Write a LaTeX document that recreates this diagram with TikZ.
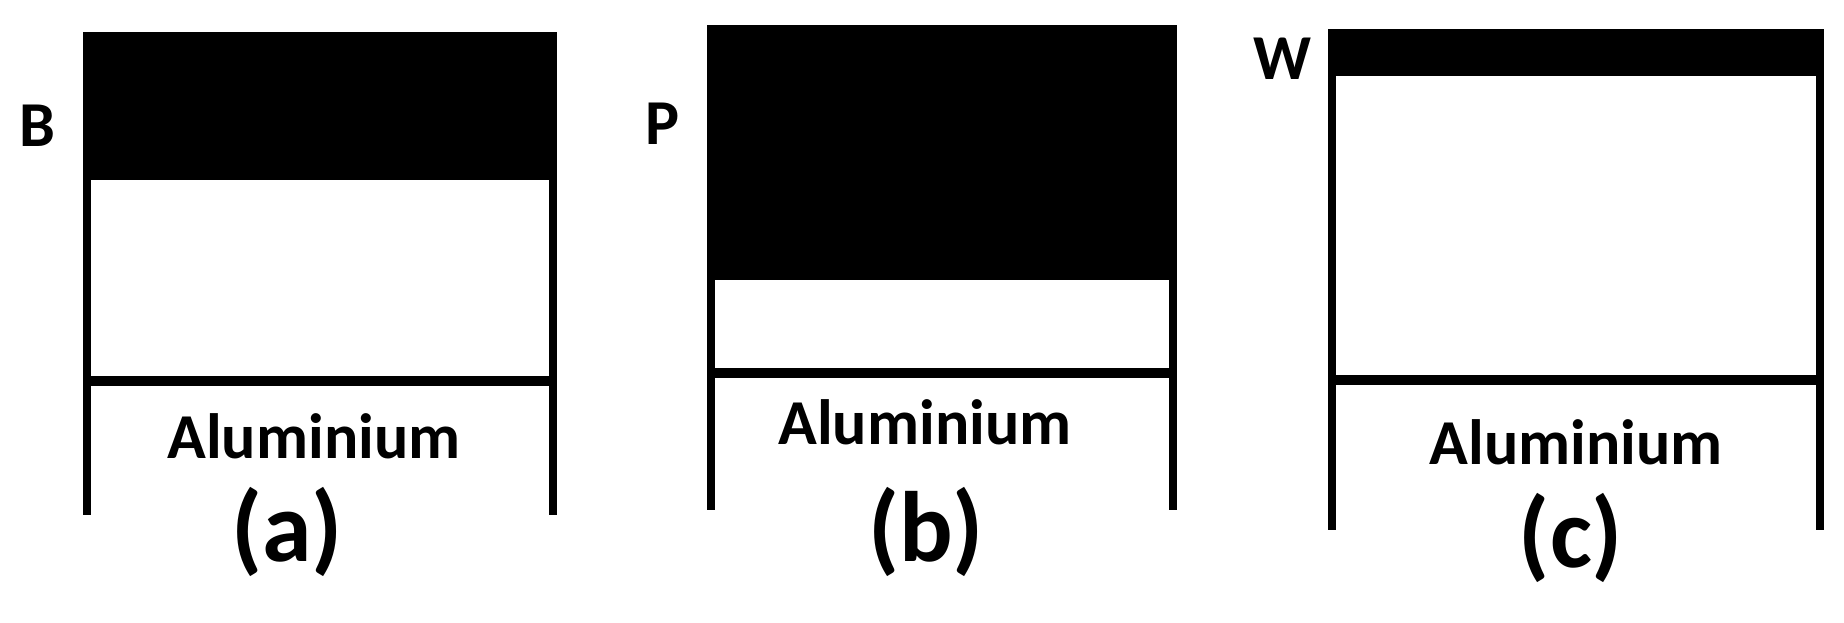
\documentclass[tikz,border=0pt]{standalone}
\usepackage{fontspec}
\setmainfont{Carlito}

\begin{document}
\begin{tikzpicture}[x=1pt,y=-1pt,
    wall/.style={line width=8pt},
    interface/.style={line width=10pt},
    film/.style={fill=black},
    tag/.style={font=\bfseries\fontsize{64}{70}\selectfont, inner sep=0pt},
    caption/.style={font=\bfseries\fontsize{100}{110}\selectfont, inner sep=0pt}]
    \useasboundingbox (0,0) rectangle (1844,622);
    % Stacks: name/left/right/top/film bottom/interface/wall end
    \foreach \n/\l/\r/\t/\f/\h/\e in {a/83/557/32/180/381/515, b/707/1177/25/280/373/510, c/1328/1824/29/76/380/530} {
        \fill[film] (\l,\t) rectangle (\r,\f);
        \draw[wall] (\l+4,\t) -- (\l+4,\e);
        \draw[wall] (\r-4,\t) -- (\r-4,\e);
        \draw[interface] (\l+4,\h) -- (\r-4,\h);
    }
    % Film labels
    \node[tag] (lbl-B) at (37,126) {B};
    \node[tag] (lbl-P) at (663,124) {P};
    \node[tag] (lbl-W) at (1282,59) {W};
    % Substrate
    \node[tag, anchor=base] (al-a) at (314,458) {Aluminium};
    \node[tag, anchor=base] (al-b) at (925,444) {Aluminium};
    \node[tag, anchor=base] (al-c) at (1576,464) {Aluminium};
    % Captions
    \node[caption] (cap-a) at (287,532) {(a)};
    \node[caption] (cap-b) at (926,532) {(b)};
    \node[caption] (cap-c) at (1571,538) {(c)};
\end{tikzpicture}
\end{document}
